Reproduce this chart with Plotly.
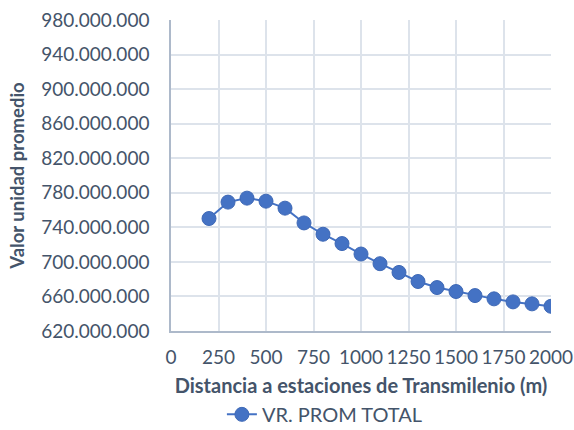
import plotly.graph_objects as go

distancia = [200, 300, 400, 500, 600, 700, 800, 900, 1000, 1100,
             1200, 1300, 1400, 1500, 1600, 1700, 1800, 1900, 2000]
valor_promedio = [750.2e6, 769.2e6, 773.8e6, 770.3e6, 762.2e6, 745.1e6,
                  732.0e6, 721.2e6, 709.1e6, 697.9e6, 687.8e6, 677.3e6,
                  670.3e6, 665.7e6, 661.0e6, 657.2e6, 653.7e6, 651.4e6,
                  648.6e6]

COLOR_SERIE = "#4472C4"
COLOR_BORDE = "#3F69B6"
COLOR_TEXTO = "#44546A"
COLOR_EJE = "#ADB9CA"
COLOR_GRID = "#DDE3EB"
FUENTE = "Lato"

fig = go.Figure()
fig.add_trace(go.Scatter(
    x=distancia,
    y=valor_promedio,
    mode="lines+markers",
    name="VR. PROM TOTAL",
    line=dict(color=COLOR_SERIE, width=2),
    marker=dict(color=COLOR_SERIE, size=14,
                line=dict(color=COLOR_BORDE, width=1)),
))

fig.update_layout(
    width=574,
    height=430,
    margin=dict(l=171, r=23, t=20, b=99, autoexpand=False),
    plot_bgcolor="white",
    paper_bgcolor="white",
    separators=",.",
    font=dict(family=FUENTE, size=19, color=COLOR_TEXTO),
    showlegend=True,
    legend=dict(
        orientation="h",
        x=0.405, xanchor="center",
        y=-0.268, yanchor="middle",
        font=dict(size=20),
    ),
    xaxis=dict(
        range=[0, 2000],
        tick0=0,
        dtick=250,
        tickformat="d",
        showgrid=True,
        gridcolor=COLOR_GRID,
        gridwidth=1.5,
        showline=True,
        linecolor=COLOR_EJE,
        linewidth=1.5,
        zeroline=False,
        ticks="",
        automargin=False,
        ticklabelstandoff=8,
        title=dict(
            text="<b>Distancia a estaciones de Transmilenio (m)</b>",
            font=dict(size=20),
            standoff=12,
        ),
    ),
    yaxis=dict(
        range=[620e6, 980e6],
        tick0=620e6,
        dtick=40e6,
        tickformat=",.0f",
        showgrid=True,
        gridcolor=COLOR_GRID,
        gridwidth=1.5,
        showline=True,
        linecolor=COLOR_EJE,
        linewidth=1.5,
        zeroline=False,
        ticks="",
        automargin=False,
        ticklabelstandoff=16,
        title=dict(
            text="<b>Valor unidad promedio</b>",
            font=dict(size=18.5),
            standoff=12,
        ),
    ),
)

# quitar el margen por defecto del body para que la figura ocupe la ventana
fig.write_html(
    "out.html",
    config={"displayModeBar": False},
    post_script="document.body.style.margin='0px';",
)
